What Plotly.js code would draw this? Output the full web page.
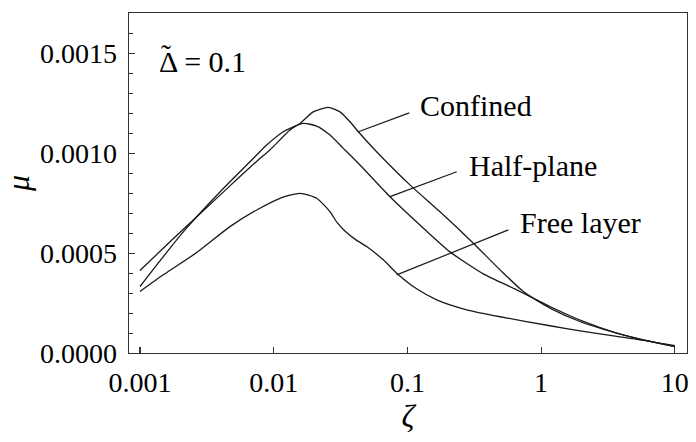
<!DOCTYPE html>
<html>
<head>
<meta charset="utf-8">
<script src="https://cdn.plot.ly/plotly-3.0.1.min.js"></script>
<style>
html,body{margin:0;padding:0;background:#fff;}
#chart{width:696px;height:442px;}
#chart text{fill:#000 !important;}
</style>
</head>
<body>
<div id="chart"></div>
<script>
// ---- data ----
const seriesNames = ["Confined", "Half-plane", "Free layer"];

const confinedZeta = [0.001, 0.001676, 0.002812, 0.004712, 0.00767, 0.009375, 0.01324, 0.01574, 0.01977, 0.02558, 0.03133, 0.03726, 0.04296, 0.05884, 0.1044, 0.1754, 0.3112, 0.4933, 0.7362, 1.166, 2.057, 3.675, 6.53, 10];
const confinedMu   = [0.000413, 0.000557, 0.000697, 0.000837, 0.000967, 0.001017, 0.0011165, 0.00115, 0.001208, 0.00123, 0.001208, 0.001158, 0.001108, 0.001008, 0.000842, 0.000707, 0.00055, 0.0004165, 0.000308, 0.000225, 0.0001515, 0.0001, 0.000058, 0.0000365];

const halfZeta = [0.001, 0.001411, 0.002171, 0.003963, 0.006648, 0.008866, 0.0118, 0.01665, 0.02097, 0.02636, 0.03316, 0.04419, 0.0741, 0.1241, 0.2083, 0.3696, 0.6569, 1.166, 2.068, 3.675, 6.53, 10];
const halfMu   = [0.000333, 0.0004615, 0.0006165, 0.0008065, 0.000958, 0.0010415, 0.001108, 0.00115, 0.0011365, 0.0010915, 0.001025, 0.0009415, 0.000783, 0.0006415, 0.0005065, 0.0003965, 0.0003165, 0.000233, 0.000158, 0.0001, 0.000058, 0.0000315];

const freeZeta = [0.001, 0.001494, 0.002655, 0.004712, 0.00747, 0.01114, 0.01573, 0.02097, 0.02636, 0.02973, 0.0341, 0.04126, 0.04961, 0.066, 0.0832, 0.1173, 0.1656, 0.2777, 0.4933, 1.166, 2.068, 3.675, 6.53, 10];
const freeMu   = [0.000308, 0.0003915, 0.000503, 0.000633, 0.0007165, 0.000775, 0.0008, 0.000775, 0.000708, 0.000654, 0.0006115, 0.0005665, 0.000533, 0.0004665, 0.0004, 0.0003215, 0.0002665, 0.0002165, 0.0001815, 0.0001365, 0.000108, 0.000083, 0.000058, 0.000033];

const xTickVals = [0.001, 0.01, 0.1, 1, 10];
const xTickText = ["0.001", "0.01", "0.1", "1", "10"];
const yTickVals = [0, 0.0005, 0.0010, 0.0015];
const yTickText = ["0.0000", "0.0005", "0.0010", "0.0015"];

// label leader lines: [curve point, label end] in data units
const leaderFrom = [[0.04296, 0.001108], [0.0741, 0.000783], [0.0832, 0.0003915]];
const leaderTo   = [[0.1033, 0.001203], [0.2339, 0.000908], [0.569, 0.0006165]];
const labelPos   = [[0.1206, 0.0012415], [0.2806, 0.0009415], [0.675, 0.000653]];

// ---- chart ----
const SERIF = "Times New Roman";
const lineStyle = {color: "#1a1a1a", width: 1.3, shape: "spline", smoothing: 0.6};

const traces = [
  {x: confinedZeta, y: confinedMu, name: seriesNames[0]},
  {x: halfZeta, y: halfMu, name: seriesNames[1]},
  {x: freeZeta, y: freeMu, name: seriesNames[2]}
].map(t => Object.assign(t, {type: "scatter", mode: "lines", line: lineStyle}));

const shapes = leaderFrom.map((p, i) => ({
  type: "line", xref: "x", yref: "y",
  x0: p[0], y0: p[1], x1: leaderTo[i][0], y1: leaderTo[i][1],
  line: {color: "#1a1a1a", width: 1.2}
}));

const annotations = labelPos.map((p, i) => ({
  x: Math.log10(p[0]), y: p[1], xref: "x", yref: "y",
  text: seriesNames[i], showarrow: false, xanchor: "left", yanchor: "middle",
  font: {family: SERIF, size: 30}
}));
annotations.push({
  x: 0.05, y: 0.856, xref: "paper", yref: "paper",
  text: "\u0394 = 0.1", showarrow: false, xanchor: "left", yanchor: "middle",
  font: {family: SERIF, size: 30}
});
annotations.push({
  x: 0.0665, y: 0.878, xref: "paper", yref: "paper",
  text: "\u02DC", showarrow: false, xanchor: "center", yanchor: "middle",
  font: {family: SERIF, size: 30}
});

const layout = {
  width: 696, height: 442,
  margin: {l: 129, r: 9, t: 13, b: 89},
  showlegend: false,
  xaxis: {
    type: "log", range: [-3.082, 1.091],
    tickvals: xTickVals, ticktext: xTickText,
    ticks: "inside", ticklen: 6, tickwidth: 1.2, tickcolor: "#333",
    showline: true, mirror: true, linecolor: "#333", linewidth: 1.4,
    showgrid: false, zeroline: false,
    tickfont: {family: SERIF, size: 28},
    ticklabelstandoff: 4,
    title: {text: "<i>\u03B6</i>", font: {family: SERIF, size: 32}, standoff: 0}
  },
  yaxis: {
    range: [0, 0.001703],
    tickvals: yTickVals, ticktext: yTickText,
    ticks: "inside", ticklen: 6, tickwidth: 1.2, tickcolor: "#333",
    minor: {dtick: 0.0001, ticks: "inside", ticklen: 3.5, tickwidth: 1, tickcolor: "#333", showgrid: false},
    showline: true, mirror: true, linecolor: "#333", linewidth: 1.4,
    showgrid: false, zeroline: false,
    tickfont: {family: SERIF, size: 28},
    ticklabelstandoff: 5,
    title: {text: "<i>\u03BC</i>", font: {family: SERIF, size: 32}, standoff: 10}
  },
  shapes: shapes,
  annotations: annotations
};

Plotly.newPlot("chart", traces, layout, {staticPlot: true});
</script>
</body>
</html>
